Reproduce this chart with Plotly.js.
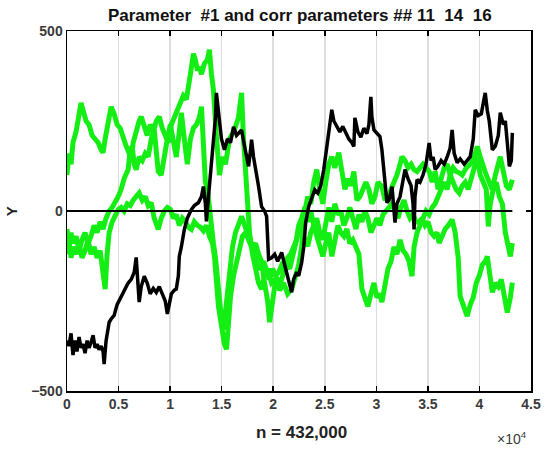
<!DOCTYPE html>
<html>
<head>
<meta charset="utf-8">
<script src="https://cdn.plot.ly/plotly-3.0.1.min.js"></script>
<style>html,body{margin:0;padding:0;background:#fff;}#chart{width:550px;height:452px;}</style>
</head>
<body>
<div id="chart"></div>
<script>
// x values in units of 10^4 samples
const blackX = [0,0.019,0.039,0.058,0.078,0.097,0.117,0.136,0.156,0.175,0.195,0.214,0.233,0.253,0.272,0.292,0.311,0.331,0.350,0.360,0.379,0.409,0.428,0.457,0.486,0.525,0.554,0.593,0.623,0.652,0.671,0.691,0.700,0.720,0.749,0.778,0.807,0.837,0.866,0.895,0.924,0.953,0.973,0.992,1.012,1.041,1.060,1.080,1.089,1.109,1.138,1.167,1.206,1.235,1.274,1.304,1.323,1.342,1.352,1.372,1.391,1.420,1.440,1.449,1.469,1.479,1.498,1.527,1.556,1.586,1.615,1.644,1.673,1.693,1.722,1.741,1.761,1.780,1.790,1.809,1.829,1.858,1.887,1.916,1.936,1.955,1.984,2.014,2.043,2.082,2.111,2.140,2.160,2.179,2.198,2.228,2.247,2.276,2.296,2.315,2.344,2.374,2.403,2.432,2.461,2.490,2.519,2.539,2.568,2.588,2.617,2.646,2.675,2.704,2.733,2.763,2.782,2.792,2.821,2.850,2.879,2.909,2.928,2.947,2.957,2.977,3.006,3.035,3.054,3.074,3.093,3.103,3.123,3.152,3.181,3.200,3.230,3.259,3.278,3.307,3.337,3.356,3.366,3.375,3.395,3.424,3.453,3.482,3.512,3.531,3.551,3.570,3.599,3.628,3.658,3.687,3.716,3.735,3.755,3.784,3.813,3.852,3.881,3.911,3.940,3.959,3.988,4.018,4.037,4.056,4.076,4.095,4.125,4.154,4.183,4.202,4.232,4.251,4.270,4.290,4.309,4.319];
const blackY = [-360,-375,-340,-400,-360,-390,-350,-380,-370,-395,-360,-380,-365,-345,-380,-370,-385,-375,-390,-425,-360,-309,-300,-290,-260,-237,-220,-200,-190,-170,-129,-200,-253,-210,-181,-200,-230,-215,-226,-210,-230,-250,-286,-260,-230,-220,-217,-180,-126,-100,-51,-20,4,15,23,40,68,20,-29,40,100,179,260,328,280,245,200,170,200,190,234,210,220,225,180,150,124,170,198,150,120,68,12,0,-15,-134,-130,-120,-140,-115,-150,-180,-200,-226,-190,-170,-180,-143,-100,-32,12,40,59,50,70,115,180,226,281,250,234,220,235,215,200,190,179,259,220,205,230,215,240,317,260,225,215,207,170,106,60,23,30,68,-32,20,40,80,115,90,70,20,-51,40,87,80,100,130,189,140,150,115,125,140,130,150,175,225,160,134,145,130,140,151,200,281,265,270,300,328,280,250,170,180,210,273,240,250,190,124,140,217,200];

const gaX = [0,0.019,0.039,0.058,0.088,0.117,0.136,0.156,0.185,0.214,0.243,0.272,0.302,0.331,0.350,0.370,0.399,0.428,0.457,0.486,0.516,0.545,0.574,0.603,0.623,0.642,0.671,0.700,0.720,0.749,0.778,0.807,0.837,0.866,0.895,0.924,0.953,0.982,1.012,1.041,1.070,1.099,1.128,1.158,1.177,1.197,1.226,1.245,1.265,1.284,1.304,1.333,1.362,1.381,1.401,1.420,1.449,1.479,1.508,1.537,1.576,1.625,1.663,1.693,1.712,1.732,1.751,1.770,1.800,1.829,1.858,1.887,1.916,1.946,1.984,2.023,2.062,2.101,2.140,2.179,2.218,2.247,2.276,2.306,2.335,2.364,2.393,2.422,2.451,2.481,2.510,2.539,2.568,2.597,2.636,2.665,2.695,2.724,2.753,2.782,2.811,2.840,2.870,2.899,2.928,2.957,2.987,3.016,3.054,3.084,3.113,3.142,3.171,3.200,3.230,3.249,3.278,3.307,3.337,3.366,3.395,3.424,3.453,3.482,3.512,3.541,3.570,3.599,3.628,3.658,3.687,3.716,3.745,3.774,3.804,3.833,3.872,3.911,3.950,3.979,4.008,4.037,4.066,4.095,4.125,4.154,4.183,4.202,4.232,4.261,4.290,4.319];
const gaY = [100,160,130,190,220,270,300,280,250,240,210,200,190,170,162,200,250,290,270,240,230,200,180,160,145,190,226,250,262,230,210,240,220,250,262,230,210,190,240,260,280,300,320,310,337,380,437,420,390,400,380,410,420,448,380,337,207,100,150,130,200,226,260,328,200,87,0,-60,-120,-160,-200,-217,-180,-160,-200,-190,-220,-200,-230,-217,-180,-150,-100,0,40,20,80,115,60,20,80,130,151,120,162,100,60,90,70,110,30,40,60,80,60,20,40,80,68,30,40,60,80,100,130,151,140,120,130,115,110,120,130,120,110,80,110,60,90,120,130,100,120,110,106,100,120,130,150,179,150,120,100,80,60,100,130,151,110,70,60,87];

const gbX = [0,0.019,0.039,0.058,0.088,0.117,0.146,0.175,0.204,0.233,0.263,0.292,0.321,0.350,0.379,0.409,0.438,0.467,0.496,0.525,0.554,0.593,0.613,0.632,0.652,0.671,0.700,0.730,0.759,0.788,0.817,0.846,0.866,0.885,0.914,0.944,0.973,1.002,1.031,1.060,1.089,1.109,1.138,1.167,1.197,1.226,1.255,1.284,1.304,1.323,1.342,1.362,1.381,1.401,1.420,1.440,1.459,1.479,1.498,1.518,1.537,1.556,1.576,1.605,1.634,1.663,1.693,1.712,1.741,1.770,1.800,1.829,1.858,1.887,1.916,1.946,1.965,1.984,2.014,2.043,2.072,2.101,2.130,2.160,2.189,2.218,2.247,2.276,2.306,2.335,2.364,2.393,2.422,2.451,2.481,2.510,2.539,2.568,2.597,2.627,2.656,2.685,2.714,2.743,2.772,2.802,2.831,2.860,2.889,2.918,2.948,2.977,3.006,3.035,3.064,3.093,3.123,3.152,3.181,3.210,3.239,3.268,3.298,3.327,3.356,3.385,3.414,3.444,3.473,3.502,3.531,3.560,3.589,3.609,3.638,3.667,3.697,3.735,3.765,3.794,3.813,3.843,3.881,3.911,3.940,3.969,3.998,4.027,4.056,4.076,4.105,4.125,4.154,4.183,4.212,4.241,4.270,4.300,4.319];
const gbY = [-50,-100,-60,-90,-70,-110,-80,-60,-90,-70,-40,-60,-30,-50,-20,0,10,23,40,60,90,115,170,179,130,115,150,140,160,151,200,226,180,110,100,160,200,240,200,150,220,273,200,130,200,230,240,260,290,200,80,60,0,-51,-90,-130,-200,-250,-300,-330,-280,-200,-150,-100,-60,-40,-15,-30,-60,-80,-100,-90,-120,-140,-200,-250,-309,-260,-210,-190,-199,-170,-150,-160,-130,-90,-40,-20,10,-30,0,-40,-20,-60,-80,-40,10,-30,20,-10,0,-40,-20,10,-20,-50,-10,-30,0,-20,-60,-40,-20,-40,-10,0,10,20,0,-20,10,30,0,-20,-10,-30,-32,-20,-40,-30,-60,-70,-60,-89,-70,-50,-40,-24,-60,-130,-237,-260,-292,-260,-240,-200,-180,-150,-140,-126,-180,-226,-200,-210,-190,-240,-282,-240,-199];

const gcX = [0,0.019,0.039,0.058,0.088,0.117,0.146,0.175,0.204,0.233,0.263,0.292,0.321,0.340,0.360,0.370,0.389,0.409,0.438,0.467,0.496,0.525,0.554,0.584,0.613,0.642,0.671,0.700,0.730,0.759,0.788,0.817,0.846,0.866,0.885,0.914,0.944,0.973,1.002,1.031,1.060,1.089,1.119,1.148,1.177,1.206,1.235,1.265,1.294,1.323,1.352,1.381,1.411,1.430,1.449,1.469,1.488,1.508,1.527,1.547,1.566,1.586,1.615,1.644,1.673,1.702,1.732,1.761,1.790,1.819,1.848,1.877,1.907,1.936,1.965,1.994,2.023,2.053,2.082,2.111,2.140,2.169,2.198,2.228,2.257,2.276,2.306,2.335,2.364,2.393,2.422,2.451,2.481,2.510,2.539,2.568,2.597,2.627,2.656,2.685,2.714,2.743,2.772,2.802,2.831,2.860,2.889,2.918,2.948,2.977,3.006,3.035,3.054,3.084,3.113,3.142,3.171,3.200,3.230,3.259,3.288,3.317,3.346,3.366,3.395,3.424,3.453,3.482,3.512,3.541,3.570,3.599,3.628,3.658,3.687,3.716,3.745,3.774,3.804,3.833,3.862,3.891,3.920,3.950,3.979,4.008,4.037,4.066,4.086,4.105,4.134,4.163,4.193,4.222,4.251,4.280,4.300,4.319];
const gcY = [-120,-80,-130,-100,-120,-90,-130,-110,-80,-120,-100,-130,-110,-150,-200,-217,-120,-60,-30,-10,4,10,0,20,15,30,40,50,30,40,15,23,-20,-40,-51,-20,0,10,5,-20,-10,-40,-20,-30,-45,-51,-30,-40,-45,-55,-40,-70,-90,-126,-200,-265,-300,-348,-370,-384,-300,-237,-180,-143,-100,-70,-60,-80,-100,-120,-150,-162,-140,-170,-190,-160,-180,-170,-150,-160,-130,-120,-100,-80,-40,-50,-80,-98,-60,-40,-70,-100,-126,-90,-60,-126,-80,-40,-60,-70,-50,-90,-80,-100,-120,-217,-240,-265,-230,-200,-240,-230,-253,-200,-160,-140,-100,-120,-80,-110,-120,-140,-181,-100,-60,-40,-20,0,-10,10,20,40,60,80,60,100,80,60,50,70,80,60,90,120,150,100,80,60,-43,20,60,80,40,20,-60,-100,-126,-89];

const refX = [0, 4.319];
const refY = [0, 0];

const xTickVals = [0,0.5,1,1.5,2,2.5,3,3.5,4,4.5];
const xTickText = ['0','0.5','1','1.5','2','2.5','3','3.5','4','4.5'];
const yTickVals = [-500,0,500];
const yTickText = ['\u2212500','0','500'];

const green = '#14ee14';
const FONT = 'Liberation Sans, Arial, sans-serif';

const traces = [
  {x: gaX, y: gaY, mode: 'lines', line: {color: green, width: 5}, hoverinfo: 'skip'},
  {x: gbX, y: gbY, mode: 'lines', line: {color: green, width: 5}, hoverinfo: 'skip'},
  {x: gcX, y: gcY, mode: 'lines', line: {color: green, width: 5}, hoverinfo: 'skip'},
  {x: refX, y: refY, mode: 'lines', line: {color: '#000', width: 2}, hoverinfo: 'skip'},
  {x: blackX, y: blackY, mode: 'lines', line: {color: '#000', width: 3.5}, hoverinfo: 'skip'}
];

const layout = {
  width: 550, height: 452,
  margin: {l: 67, r: 19, t: 31, b: 61},
  showlegend: false,
  paper_bgcolor: '#fff', plot_bgcolor: '#fff',
  title: {text: 'Parameter\u00a0\u00a0#1 and corr parameters ## 11\u00a0\u00a014\u00a0\u00a016',
          font: {family: FONT, size: 17, color: '#111', weight: 'bold'},
          x: 0.545, xanchor: 'center', y: 0.966, yanchor: 'middle', yref: 'container'},
  xaxis: {range: [0, 4.5], tickvals: xTickVals, ticktext: xTickText,
          ticks: 'inside', ticklen: 5, tickwidth: 1.5, tickcolor: '#000',
          showline: true, linecolor: '#000', linewidth: 1.5, mirror: 'allticks',
          showgrid: true, gridcolor: '#dedede', gridwidth: 1.5, zeroline: false,
          tickfont: {family: FONT, size: 14, color: '#3a3a3a', weight: 'bold'}},
  yaxis: {range: [-500, 500], tickvals: yTickVals, ticktext: yTickText,
          ticks: 'inside', ticklen: 5, tickwidth: 1.5, tickcolor: '#000',
          showline: true, linecolor: '#000', linewidth: 1.5, mirror: 'allticks',
          showgrid: false, zeroline: false,
          tickfont: {family: FONT, size: 14, color: '#3a3a3a', weight: 'bold'}},
  annotations: [
    {text: 'n = 432,000', xref: 'paper', yref: 'paper', x: 0.505, y: -0.114,
     xanchor: 'center', yanchor: 'middle', showarrow: false,
     font: {family: FONT, size: 17, color: '#222', weight: 'bold'}},
    {text: '\u00d710<sup>4</sup>', xref: 'paper', yref: 'paper', x: 0.958, y: -0.13,
     xanchor: 'center', yanchor: 'middle', showarrow: false,
     font: {family: FONT, size: 14, color: '#3a3a3a'}},
    {text: 'Y', xref: 'paper', yref: 'paper', x: -0.12, y: 0.5,
     xanchor: 'center', yanchor: 'middle', showarrow: false, textangle: -90,
     font: {family: FONT, size: 15, color: '#222', weight: 'bold'}}
  ]
};

Plotly.newPlot('chart', traces, layout, {staticPlot: true, displayModeBar: false});
</script>
</body>
</html>
